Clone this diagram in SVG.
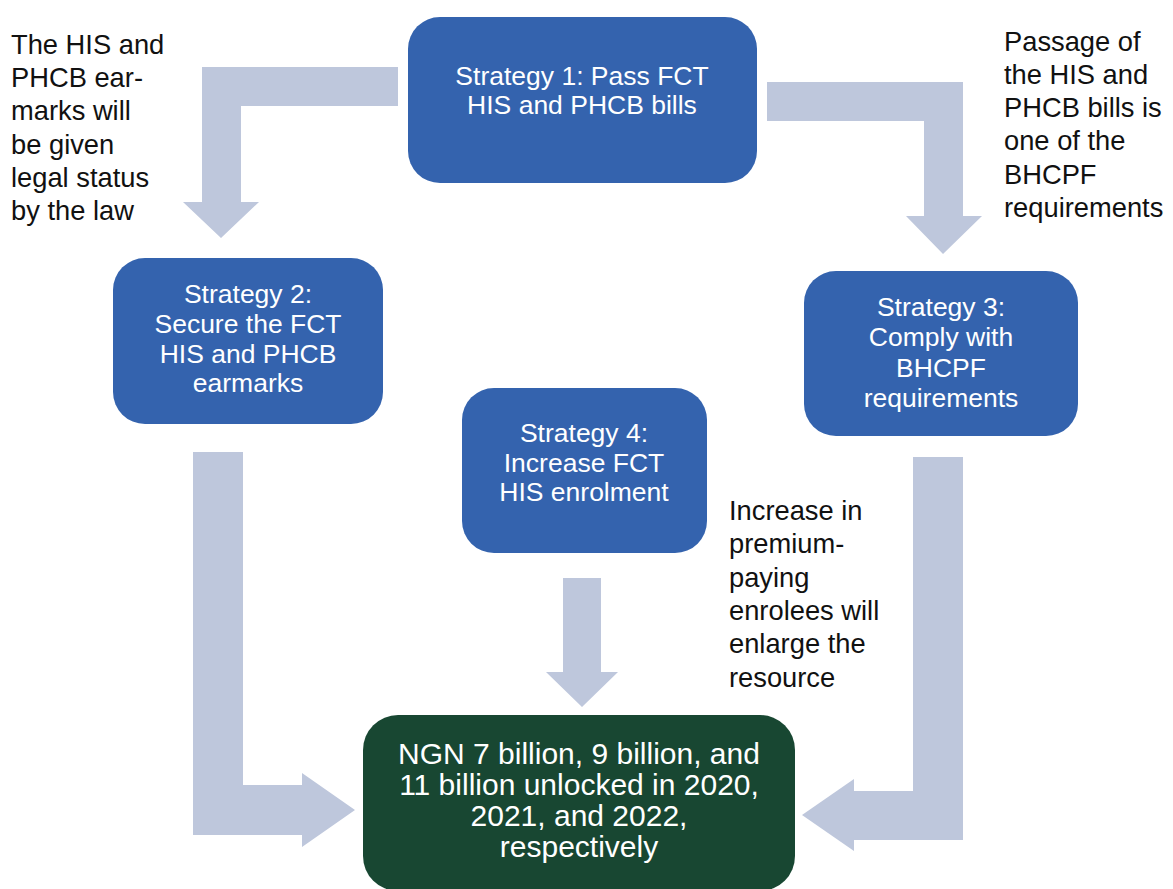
<svg xmlns="http://www.w3.org/2000/svg" width="1173" height="889" viewBox="0 0 1173 889">
  <style>
    .bg { fill: #ffffff; }
    .flow { fill: #BEC7DC; }
    .box { fill: #3463AE; }
    .goal { fill: #184732; }
    .lbl { font-family: "Liberation Sans", Arial, sans-serif; font-size: 26.5px; fill: #ffffff; text-anchor: middle; }
    .big { font-size: 30px; }
    .note { font-family: "Liberation Sans", Arial, sans-serif; font-size: 27.3px; fill: #111111; }
  </style>
  <rect class="bg" x="0" y="0" width="1173" height="889"/>

  <!-- block arrows between strategies -->
  <g id="connectors">
    <polygon class="flow" points="398,67 202,67 202,202 183,202 221,238 259,202 241,202 241,106 398,106"/>
    <polygon class="flow" points="767,82 963,82 963,216 982,216 943,254 906,216 924,216 924,121 767,121"/>
    <polygon class="flow" points="193,452 243,452 243,785 302,785 302,773 355,810 302,847 302,835 193,835"/>
    <polygon class="flow" points="913,457 963,457 963,840 854,840 854,851 802,815 854,779 854,791 913,791"/>
    <polygon class="flow" points="563,578 601,578 601,672 618,672 582,707 546,672 563,672"/>
  </g>

  <g id="strategy1">
    <rect class="box" x="408" y="17" width="349" height="166" rx="32"/>
    <text class="lbl" x="582" y="85">Strategy 1: Pass FCT</text>
    <text class="lbl" x="582" y="114">HIS and PHCB bills</text>
  </g>

  <g id="strategy2">
    <rect class="box" x="113" y="258" width="270" height="166" rx="32"/>
    <text class="lbl" x="248" y="303">Strategy 2:</text>
    <text class="lbl" x="248" y="333">Secure the FCT</text>
    <text class="lbl" x="248" y="363">HIS and  PHCB</text>
    <text class="lbl" x="248" y="392">earmarks</text>
  </g>

  <g id="strategy3">
    <rect class="box" x="804" y="271" width="274" height="165" rx="32"/>
    <text class="lbl" x="941" y="316">Strategy 3:</text>
    <text class="lbl" x="941" y="346">Comply with</text>
    <text class="lbl" x="941" y="377">BHCPF</text>
    <text class="lbl" x="941" y="407">requirements</text>
  </g>

  <g id="strategy4">
    <rect class="box" x="462" y="388" width="245" height="165" rx="32"/>
    <text class="lbl" x="584" y="442">Strategy 4:</text>
    <text class="lbl" x="584" y="472">Increase FCT</text>
    <text class="lbl" x="584" y="501">HIS enrolment</text>
  </g>

  <g id="outcome">
    <rect class="goal" x="363" y="715" width="432" height="176" rx="35"/>
    <text class="lbl big" x="579" y="764">NGN 7 billion, 9 billion, and</text>
    <text class="lbl big" x="579" y="795">11 billion unlocked in 2020,</text>
    <text class="lbl big" x="579" y="826">2021, and 2022,</text>
    <text class="lbl big" x="579" y="857">respectively</text>
  </g>

  <g id="note-earmarks">
    <text class="note" x="11" y="54">The HIS and</text>
    <text class="note" x="11" y="87">PHCB ear-</text>
    <text class="note" x="11" y="120">marks will</text>
    <text class="note" x="11" y="154">be given</text>
    <text class="note" x="11" y="187">legal status</text>
    <text class="note" x="11" y="220">by the law</text>
  </g>

  <g id="note-bills">
    <text class="note" x="1004" y="51">Passage of</text>
    <text class="note" x="1004" y="84">the HIS and</text>
    <text class="note" x="1004" y="117">PHCB bills is</text>
    <text class="note" x="1004" y="150">one of the</text>
    <text class="note" x="1004" y="184">BHCPF</text>
    <text class="note" x="1004" y="217">requirements</text>
  </g>

  <g id="note-enrolees">
    <text class="note" x="729" y="520">Increase in</text>
    <text class="note" x="729" y="553">premium-</text>
    <text class="note" x="729" y="587">paying</text>
    <text class="note" x="729" y="620">enrolees will</text>
    <text class="note" x="729" y="653">enlarge the</text>
    <text class="note" x="729" y="687">resource</text>
  </g>
</svg>
